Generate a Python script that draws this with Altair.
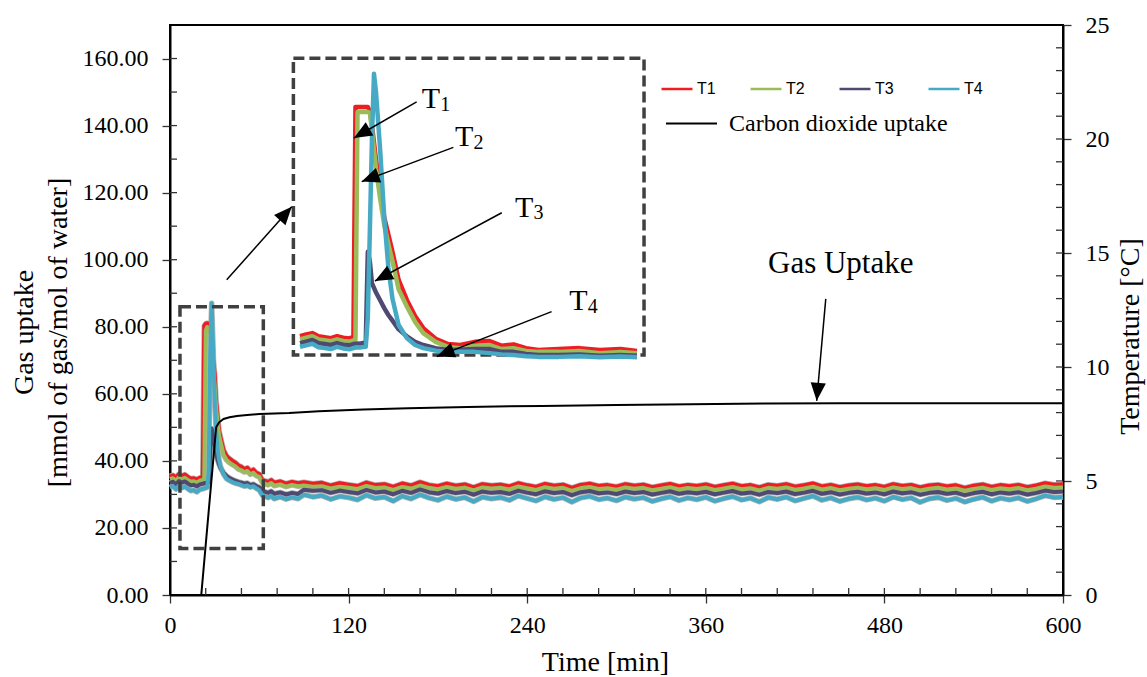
import math
import pandas as pd
import altair as alt

# ---------------------------------------------------------------- layout
W, H = 893, 570            # plot area in pixels
T_MAX, GAS_MAX, TEMP_MAX = 600, 170, 25
SX, SY = W / T_MAX, H / GAS_MAX   # pixels per minute / per gas unit

SERIF = "Liberation Serif"
SANS = "Liberation Sans"
TICK = "#333333"

series_names = ["T1", "T2", "T3", "T4"]
series_colors = ["#ee1d23", "#9bbb59", "#4f4a72", "#46aac4"]

# ---------------------------------------------------------------- temperatures [°C]
early_time = [0, 2, 4, 6, 8, 10, 12, 14, 16, 18, 20, 22, 23, 24, 25, 26, 27, 28, 29, 30,
              31, 32, 33, 34, 36, 38, 40, 42, 44, 46, 48, 50, 52, 54, 56, 58, 60, 62, 64,
              66, 68, 70, 74, 78, 82, 86]
late_time = list(range(90, 601, 6))

t1_early = [5.20, 5.25, 5.15, 5.30, 5.22, 5.28, 5.18, 5.10, 5.12, 5.06, 5.14, 5.18, 11.80,
            11.90, 11.92, 11.90, 11.85, 11.00, 10.30, 9.70, 8.50, 7.80, 7.20, 6.90, 6.35,
            6.10, 5.98, 5.88, 5.80, 5.68, 5.62, 5.52, 5.58, 5.42, 5.50, 5.36, 5.30, 5.05,
            5.00, 4.96, 5.04, 4.92, 4.98, 4.88, 4.96, 4.90]
t2_early = [5.08, 5.12, 5.02, 5.16, 5.08, 5.14, 5.05, 4.97, 4.99, 4.93, 5.01, 5.05, 5.10,
            11.60, 11.75, 11.72, 11.62, 10.60, 9.90, 9.20, 8.20, 7.50, 7.00, 6.70, 6.15,
            5.92, 5.80, 5.72, 5.64, 5.52, 5.47, 5.39, 5.44, 5.29, 5.36, 5.23, 5.18, 4.93,
            4.87, 4.83, 4.91, 4.79, 4.85, 4.75, 4.83, 4.77]
t3_early = [4.92, 4.97, 4.86, 5.00, 4.93, 4.98, 4.89, 4.81, 4.83, 4.77, 4.85, 4.88, 4.90,
            4.92, 4.90, 4.95, 6.20, 7.30, 7.00, 6.60, 6.20, 5.92, 5.72, 5.56, 5.36, 5.22,
            5.13, 5.06, 5.01, 4.96, 4.93, 4.88, 4.91, 4.82, 4.86, 4.78, 4.72, 4.56, 4.52,
            4.48, 4.55, 4.44, 4.50, 4.41, 4.48, 4.43]
t4_early = [4.72, 4.78, 4.64, 4.80, 4.70, 4.76, 4.66, 4.57, 4.60, 4.52, 4.62, 4.66, 4.68,
            4.70, 4.72, 5.40, 10.50, 12.80, 10.80, 8.60, 7.20, 6.40, 5.90, 5.62, 5.30, 5.10,
            5.02, 4.95, 4.90, 4.87, 4.82, 4.77, 4.80, 4.73, 4.77, 4.68, 4.60, 4.38, 4.32,
            4.27, 4.35, 4.22, 4.30, 4.20, 4.28, 4.22]

t1_late = [4.95, 4.88, 4.92, 4.80, 4.90, 4.84, 4.78, 4.93, 4.82, 4.86,
           4.74, 4.89, 4.80, 4.95, 4.83, 4.77, 4.88, 4.79, 4.85, 4.72,
           4.86, 4.80, 4.84, 4.76, 4.90, 4.81, 4.74, 4.87, 4.79, 4.84,
           4.70, 4.83, 4.88, 4.78, 4.82, 4.75, 4.86, 4.79, 4.84, 4.73,
           4.80, 4.87, 4.76, 4.83, 4.78, 4.85, 4.74, 4.81, 4.88, 4.77,
           4.82, 4.72, 4.84, 4.79, 4.86, 4.75, 4.81, 4.89, 4.76, 4.83,
           4.73, 4.80, 4.85, 4.77, 4.82, 4.74, 4.86, 4.78, 4.83, 4.72,
           4.80, 4.84, 4.76, 4.81, 4.70, 4.79, 4.85, 4.74, 4.82, 4.77,
           4.83, 4.73, 4.80, 4.90, 4.84, 4.86]
t2_late = [4.80, 4.75, 4.77, 4.67, 4.75, 4.70, 4.65, 4.78, 4.69, 4.72,
           4.61, 4.74, 4.67, 4.80, 4.70, 4.64, 4.74, 4.66, 4.71, 4.59,
           4.72, 4.67, 4.70, 4.63, 4.76, 4.68, 4.61, 4.73, 4.66, 4.70,
           4.57, 4.69, 4.74, 4.65, 4.68, 4.62, 4.72, 4.66, 4.70, 4.60,
           4.66, 4.73, 4.63, 4.69, 4.65, 4.71, 4.61, 4.67, 4.74, 4.64,
           4.68, 4.59, 4.70, 4.66, 4.72, 4.62, 4.67, 4.75, 4.63, 4.69,
           4.60, 4.66, 4.71, 4.64, 4.68, 4.61, 4.72, 4.65, 4.69, 4.59,
           4.66, 4.70, 4.63, 4.67, 4.57, 4.65, 4.71, 4.61, 4.68, 4.64,
           4.69, 4.60, 4.66, 4.76, 4.70, 4.72]
t3_late = [4.62, 4.57, 4.60, 4.48, 4.58, 4.52, 4.46, 4.61, 4.50, 4.54,
           4.42, 4.57, 4.48, 4.63, 4.51, 4.45, 4.56, 4.47, 4.53, 4.40,
           4.54, 4.48, 4.52, 4.44, 4.58, 4.49, 4.42, 4.55, 4.47, 4.52,
           4.38, 4.51, 4.56, 4.46, 4.50, 4.43, 4.54, 4.47, 4.52, 4.41,
           4.48, 4.55, 4.44, 4.51, 4.46, 4.53, 4.42, 4.49, 4.56, 4.45,
           4.50, 4.40, 4.52, 4.47, 4.54, 4.43, 4.49, 4.57, 4.44, 4.51,
           4.41, 4.48, 4.53, 4.45, 4.50, 4.42, 4.54, 4.46, 4.51, 4.40,
           4.48, 4.52, 4.44, 4.49, 4.38, 4.47, 4.53, 4.42, 4.50, 4.45,
           4.51, 4.41, 4.48, 4.58, 4.52, 4.54]
t4_late = [4.40, 4.30, 4.36, 4.20, 4.33, 4.27, 4.18, 4.38, 4.24, 4.30,
           4.12, 4.34, 4.22, 4.40, 4.26, 4.16, 4.32, 4.20, 4.28, 4.10,
           4.30, 4.22, 4.28, 4.16, 4.35, 4.24, 4.13, 4.31, 4.20, 4.27,
           4.08, 4.26, 4.33, 4.19, 4.25, 4.14, 4.30, 4.21, 4.27, 4.11,
           4.22, 4.31, 4.15, 4.26, 4.19, 4.29, 4.12, 4.23, 4.32, 4.17,
           4.25, 4.09, 4.28, 4.20, 4.30, 4.13, 4.24, 4.34, 4.16, 4.26,
           4.11, 4.22, 4.29, 4.17, 4.25, 4.12, 4.30, 4.19, 4.26, 4.07,
           4.22, 4.28, 4.15, 4.24, 4.08, 4.20, 4.29, 4.12, 4.25, 4.18,
           4.26, 4.11, 4.22, 4.36, 4.28, 4.30]

# ---------------------------------------------------------------- CO2 uptake [mmol/mol]
co2_time = [0, 21, 31, 33, 36, 40, 45, 50, 60, 80, 100, 130, 160, 200, 250, 300, 350,
            400, 450, 500, 550, 600]
co2_uptake = [0.0, 0.0, 50.0, 51.5, 52.5, 53.0, 53.4, 53.6, 54.0, 54.3, 54.8, 55.3, 55.7,
              56.1, 56.4, 56.7, 56.9, 57.1, 57.2, 57.2, 57.2, 57.2]

# ---------------------------------------------------------------- magnified view of the peak
zoom_time = [10, 11.5, 13, 14.5, 16, 17.5, 19, 20.5, 22, 23, 23.5, 24, 24.5, 26, 26.5, 27,
             27.5, 28, 28.5, 29.5, 30.5, 31.5, 32.5, 34, 36, 38, 40, 43, 46, 49, 52.5, 56,
             59, 62, 65, 68, 73, 78, 83, 88, 92]
zoom_t1 = [4.60, 4.66, 4.70, 4.60, 4.57, 4.54, 4.60, 4.55, 4.53, 4.58, 11.93, 11.93, 11.93,
           11.93, 11.93, 11.80, 11.36, 10.80, 10.24, 9.28, 8.40, 7.85, 7.30, 6.40, 5.76,
           5.25, 4.86, 4.52, 4.35, 4.32, 4.42, 4.45, 4.30, 4.34, 4.22, 4.16, 4.19, 4.22,
           4.16, 4.19, 4.13]
zoom_t2 = [4.50, 4.55, 4.60, 4.50, 4.47, 4.44, 4.50, 4.45, 4.43, 4.47, 4.50, 11.77, 11.77,
           11.77, 11.77, 11.75, 11.20, 10.55, 9.95, 9.00, 8.15, 7.55, 7.00, 6.10, 5.55,
           5.06, 4.70, 4.42, 4.26, 4.22, 4.29, 4.32, 4.19, 4.22, 4.13, 4.10, 4.10, 4.13,
           4.06, 4.10, 4.06]
zoom_t3 = [4.38, 4.43, 4.48, 4.38, 4.35, 4.32, 4.38, 4.33, 4.31, 4.35, 4.36, 4.37, 4.36,
           4.40, 7.30, 7.00, 6.30, 6.15, 6.00, 5.75, 5.50, 5.28, 5.10, 4.82, 4.60, 4.42,
           4.32, 4.22, 4.16, 4.17, 4.19, 4.19, 4.10, 4.10, 4.03, 4.00, 4.00, 4.02, 3.98,
           4.00, 3.98]
zoom_t4 = [4.26, 4.31, 4.36, 4.25, 4.22, 4.19, 4.26, 4.21, 4.18, 4.22, 4.24, 4.25, 4.24,
           4.26, 5.20, 8.00, 10.87, 13.00, 12.40, 10.56, 8.40, 6.80, 5.80, 4.96, 4.54,
           4.32, 4.22, 4.14, 4.10, 4.10, 4.10, 4.06, 4.02, 4.00, 3.96, 3.94, 3.94, 3.96,
           3.93, 3.95, 3.93]

# ---------------------------------------------------------------- annotations (gas-axis units)
small_box = [6.7, 62.7, 13.9, 86.0]      # x0, x1, y0, y1
large_box = [82.9, 318.5, 71.6, 160.1]

arrow_x0 = [38.1, 165.7, 190.4, 222.9, 256.4, 440.6]
arrow_y0 = [94.0, 147.1, 133.5, 114.0, 84.5, 88.3]
arrow_x1 = [81.8, 123.6, 128.8, 137.7, 179.2, 434.5]
arrow_y1 = [115.8, 136.3, 123.3, 93.65, 71.1, 57.9]

label_main = ["T", "T", "T", "T"]
label_sub = ["1", "2", "3", "4"]
label_x = [169.1, 191.5, 231.8, 268.3]
label_y = [145.2, 133.9, 112.8, 85.0]

gas_label_x, gas_label_y = 401.8, 95.9

gas_ticks = [10, 20, 30, 40, 50, 60, 70, 80, 90, 100, 110, 120, 130, 140, 150, 160]
time_ticks = [24, 48, 72, 96, 120, 144, 168, 192, 216, 240, 264, 288, 312, 336, 360, 384,
              408, 432, 456, 480, 504, 528, 552, 576]
temp_ticks = list(range(1, 25))

# ---------------------------------------------------------------- tables
rows = []
for name, early, late in zip(series_names,
                             [t1_early, t2_early, t3_early, t4_early],
                             [t1_late, t2_late, t3_late, t4_late]):
    for t, v in zip(early_time + late_time, early + late):
        rows.append({"time": t, "temp": v, "series": name})
temp_df = pd.DataFrame(rows)

zrows = []
for name, vals in zip(series_names, [zoom_t1, zoom_t2, zoom_t3, zoom_t4]):
    for t, v in zip(zoom_time, vals):
        zrows.append({"time": t, "temp": v, "series": name})
zoom_df = pd.DataFrame(zrows)

co2_df = pd.DataFrame({"time": co2_time, "uptake": co2_uptake,
                       "label": "Carbon dioxide uptake"})

box_df = pd.DataFrame({"x0": [small_box[0], large_box[0]], "x1": [small_box[1], large_box[1]],
                       "y0": [small_box[2], large_box[2]], "y1": [small_box[3], large_box[3]]})

HEAD_LEN = 18
heads = []
for x0, y0, x1, y1 in zip(arrow_x0, arrow_y0, arrow_x1, arrow_y1):
    dx, dy = (x1 - x0) * SX, -(y1 - y0) * SY
    L = math.hypot(dx, dy)
    ux, uy = dx / L, dy / L
    heads.append({"hx": x1 - (HEAD_LEN / 2) * ux / SX,
                  "hy": y1 + (HEAD_LEN / 2) * uy / SY,
                  "angle": math.degrees(math.atan2(ux, -uy)) % 360})
arrow_df = pd.DataFrame({"x0": arrow_x0, "y0": arrow_y0, "x1": arrow_x1, "y1": arrow_y1})
head_df = pd.DataFrame(heads)
label_df = pd.DataFrame({"main": label_main, "sub": label_sub, "x": label_x, "y": label_y})
gas_label_df = pd.DataFrame({"text": ["Gas Uptake"], "x": [gas_label_x], "y": [gas_label_y]})

# ---------------------------------------------------------------- scales & axes
x_scale = alt.Scale(domain=[0, T_MAX], nice=False, zero=False)
gas_scale = alt.Scale(domain=[0, GAS_MAX], nice=False)
temp_scale = alt.Scale(domain=[0, TEMP_MAX], nice=False)
zoom_x = alt.Scale(domain=[10, 92], range=[130, 467], nice=False, zero=False)
zoom_y = alt.Scale(domain=[4, 13.5], range=[330, 33], nice=False, zero=False)
color_scale = alt.Scale(domain=series_names, range=series_colors)

common_axis = dict(tickSize=8, tickWidth=1.3, tickColor=TICK, domainColor="black",
                   domainWidth=2, labelFont=SERIF, labelFontSize=24, labelColor="black",
                   grid=False, titleFont=SERIF, titleFontSize=28, titleFontWeight="normal",
                   titleColor="black")

x_axis = alt.Axis(orient="bottom", values=[0, 120, 240, 360, 480, 600], format="d",
                  labelPadding=10, labelFlush=False, title="Time [min]",
                  titleX=435, titleY=75, titleBaseline="alphabetic", **common_axis)
left_axis = alt.Axis(orient="left", values=[0, 20, 40, 60, 80, 100, 120, 140, 160],
                     format=".2f", labelPadding=14,
                     title=["Gas uptake", "[mmol of gas/mol of water]"],
                     titleAngle=270, titleBaseline="alphabetic", titleLineHeight=34,
                     titleX=-137.5, titleY=307, **common_axis)
right_axis = alt.Axis(orient="right", values=[0, 5, 10, 15, 20, 25], format="d",
                      labelPadding=14, title="Temperature [°C]", titleAngle=270,
                      titleBaseline="alphabetic", titleX=75, titleY=311, **common_axis)

t_legend = alt.Legend(title=None, orient="none", legendX=490, legendY=47,
                      direction="horizontal", columns=4, symbolType="stroke",
                      symbolSize=961, symbolStrokeWidth=2.5, labelFont=SANS,
                      labelFontSize=16, labelColor="black", labelOffset=3,
                      columnPadding=29, padding=0)
co2_legend = alt.Legend(title=None, orient="none", legendX=495, legendY=72,
                        symbolType="stroke", symbolSize=2601, symbolStrokeWidth=2,
                        labelFont=SERIF, labelFontSize=24, labelColor="black",
                        labelOffset=11, labelLimit=0, padding=0)

# ---------------------------------------------------------------- layers
left_ticks = alt.Chart(pd.DataFrame({"v": gas_ticks})).mark_rule(
    color=TICK, strokeWidth=1.3).encode(
    y=alt.Y("v:Q", scale=gas_scale, axis=None), x=alt.value(0), x2=alt.value(7))
bottom_ticks = alt.Chart(pd.DataFrame({"v": time_ticks})).mark_rule(
    color=TICK, strokeWidth=1.3).encode(
    x=alt.X("v:Q", scale=x_scale, axis=None), y=alt.value(H), y2=alt.value(H - 7))
right_ticks = alt.Chart(pd.DataFrame({"v": temp_ticks})).mark_rule(
    color=TICK, strokeWidth=1.3).encode(
    y=alt.Y("v:Q", scale=temp_scale, axis=None), x=alt.value(W), x2=alt.value(W - 7))

# faint grey rim under the temperature traces
temp_rim = alt.Chart(temp_df).mark_line(strokeWidth=5.5, strokeJoin="round",
                                        color="#b5b5b5").encode(
    x=alt.X("time:Q", scale=x_scale, axis=None),
    y=alt.Y("temp:Q", scale=temp_scale, axis=None),
    detail="series:N",
)

temp_lines = alt.Chart(temp_df).mark_line(strokeWidth=4, strokeJoin="round").encode(
    x=alt.X("time:Q", scale=x_scale, axis=x_axis),
    y=alt.Y("temp:Q", scale=temp_scale, axis=right_axis),
    color=alt.Color("series:N", scale=color_scale, legend=t_legend),
)

co2_line = alt.Chart(co2_df).mark_line(strokeWidth=2).encode(
    x=alt.X("time:Q", scale=x_scale, axis=None),
    y=alt.Y("uptake:Q", scale=gas_scale, axis=left_axis),
    stroke=alt.Stroke("label:N", scale=alt.Scale(domain=["Carbon dioxide uptake"],
                                                 range=["black"]), legend=co2_legend),
)

boxes = alt.Chart(box_df).mark_rect(fillOpacity=0, stroke="#404040", strokeWidth=3.5,
                                    strokeDash=[11, 5]).encode(
    x=alt.X("x0:Q", scale=x_scale, axis=None), x2="x1:Q",
    y=alt.Y("y0:Q", scale=gas_scale, axis=None), y2="y1:Q")

zoom_lines = alt.Chart(zoom_df).mark_line(strokeWidth=4.5, strokeJoin="round").encode(
    x=alt.X("time:Q", scale=zoom_x, axis=None),
    y=alt.Y("temp:Q", scale=zoom_y, axis=None),
    color=alt.Color("series:N", scale=color_scale, legend=t_legend),
)

arrow_lines = alt.Chart(arrow_df).mark_rule(color="black", strokeWidth=1.5).encode(
    x=alt.X("x0:Q", scale=x_scale, axis=None), x2="x1:Q",
    y=alt.Y("y0:Q", scale=gas_scale, axis=None), y2="y1:Q")

arrow_heads = alt.Chart(head_df).mark_point(
    shape="M0,-1L0.85,1L-0.85,1Z", filled=True, color="black", opacity=1,
    size=HEAD_LEN ** 2, strokeWidth=0).encode(
    x=alt.X("hx:Q", scale=x_scale, axis=None),
    y=alt.Y("hy:Q", scale=gas_scale, axis=None),
    angle=alt.Angle("angle:Q", scale=None))

label_t = alt.Chart(label_df).mark_text(font=SERIF, fontSize=30, align="left",
                                        baseline="alphabetic", color="black").encode(
    x=alt.X("x:Q", scale=x_scale, axis=None),
    y=alt.Y("y:Q", scale=gas_scale, axis=None), text="main:N")
label_s = alt.Chart(label_df).mark_text(font=SERIF, fontSize=20, align="left",
                                        baseline="alphabetic", color="black",
                                        dx=18.5, dy=2.5).encode(
    x=alt.X("x:Q", scale=x_scale, axis=None),
    y=alt.Y("y:Q", scale=gas_scale, axis=None), text="sub:N")
gas_label = alt.Chart(gas_label_df).mark_text(font=SERIF, fontSize=31, align="left",
                                              baseline="alphabetic", color="black").encode(
    x=alt.X("x:Q", scale=x_scale, axis=None),
    y=alt.Y("y:Q", scale=gas_scale, axis=None), text="text:N")

chart = alt.layer(
    left_ticks, bottom_ticks, right_ticks, temp_rim, temp_lines, co2_line, boxes,
    zoom_lines, arrow_lines, arrow_heads, label_t, label_s, gas_label,
).resolve_scale(
    x="independent", y="independent"
).properties(
    width=W, height=H,
    autosize=alt.AutoSizeParams(type="none"),
    padding={"left": 170, "top": 25, "right": 84, "bottom": 82},
    background="white",
).configure_view(stroke="black", strokeWidth=2)

chart.save("out.html", embed_options={"renderer": "svg", "actions": False})
